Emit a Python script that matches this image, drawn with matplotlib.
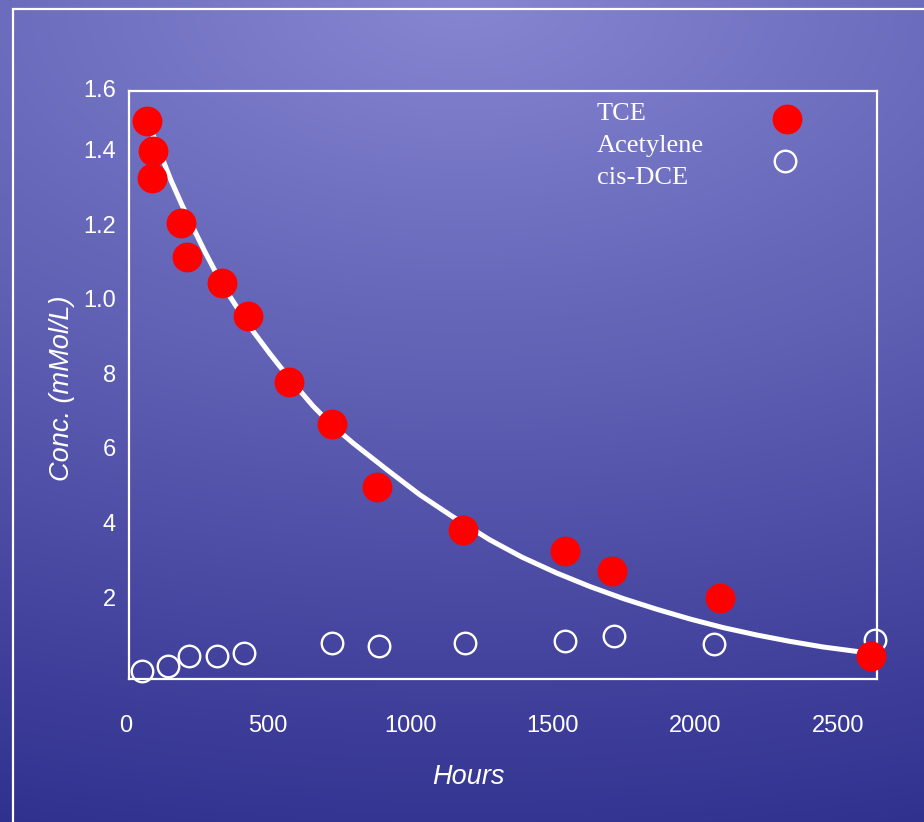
import numpy as np
import matplotlib
matplotlib.use("Agg")
import matplotlib.pyplot as plt
from matplotlib.transforms import blended_transform_factory
from matplotlib.patches import Rectangle
from matplotlib.lines import Line2D

# ---------------- data ----------------
tce_hours = [74, 95, 93, 193, 216, 337, 431, 574, 723, 882, 1183, 1542, 1708, 2087, 2616]
tce_conc = [1.484, 1.404, 1.331, 1.209, 1.119, 1.048, 0.961, 0.784, 0.670, 0.502,
            0.388, 0.330, 0.276, 0.204, 0.049]

acet_hours = [59, 148, 223, 320, 417, 726, 889, 1190, 1542, 1714, 2067, 2631]
acet_conc = [0.009, 0.023, 0.049, 0.049, 0.056, 0.083, 0.076, 0.083, 0.090, 0.103,
             0.082, 0.091]

fit_hours = [79, 103, 131, 159, 198, 237, 279, 338, 388, 447, 507, 574, 658, 724,
             798, 918, 1033, 1149, 1279, 1391, 1514, 1630, 1746, 1865, 1981, 2097,
             2216, 2332, 2448, 2567, 2613]
fit_conc = [1.481, 1.433, 1.379, 1.325, 1.258, 1.197, 1.132, 1.046, 0.987,
            0.920, 0.859, 0.794, 0.719, 0.668, 0.620, 0.548, 0.481, 0.422, 0.360,
            0.314, 0.271, 0.235, 0.203, 0.174, 0.148, 0.125, 0.105, 0.088, 0.073,
            0.061, 0.056]

x_tick_vals = [0, 500, 1000, 1500, 2000, 2500]
x_tick_labels = ["0", "500", "1000", "1500", "2000", "2500"]
y_tick_vals = [0.2, 0.4, 0.6, 0.8, 1.0, 1.2, 1.4, 1.6]
y_tick_labels = ["2", "4", "6", "8", "1.0", "1.2", "1.4", "1.6"]

legend_labels = ["TCE", "Acetylene", "cis-DCE"]

# ---------------- figure ----------------
W, H, DPI = 924, 822, 100
fig = plt.figure(figsize=(W / DPI, H / DPI), dpi=DPI)

# gradient background
bg = fig.add_axes([0, 0, 1, 1], zorder=-10)
bg.set_axis_off()
yy, xx = np.mgrid[0:H, 0:W]
t = np.sqrt(((xx - 0.5 * W) / (W * 1.6)) ** 2 + (yy / H) ** 2)
c0 = np.array([134, 134, 210]) / 255.0
c1 = np.array([52, 52, 146]) / 255.0
img = c0[None, None, :] + (c1 - c0)[None, None, :] * t[:, :, None]
img = np.clip(img, 0, 1)
bg.imshow(img, extent=[0, 1, 0, 1], aspect="auto", origin="upper")
bg.set_xlim(0, 1)
bg.set_ylim(0, 1)

# outer white frame (runs off the right and bottom edges)
frame = Rectangle((13 / W, -0.05), 1.2, 1 - 9 / H + 0.05, transform=fig.transFigure,
                  fill=False, edgecolor="white", linewidth=1.6, zorder=-5)
fig.patches.append(frame)

ax = fig.add_axes([129 / W, 1 - 679 / H, (877 - 129) / W, (679 - 91) / H])
ax.set_facecolor("none")
ax.set_xlim(11.9, 2637.4)
ax.set_ylim(-0.0129, 1.564)
for s in ax.spines.values():
    s.set_color("white")
    s.set_linewidth(1.6)
    s.set_zorder(3)
ax.set_xticks([])
ax.set_yticks([])

# fitted curve
ax.plot(fit_hours, fit_conc, color="white", lw=3.6, solid_capstyle="round",
        solid_joinstyle="round", zorder=2)
# acetylene (open circles)
ax.plot(acet_hours, acet_conc, linestyle="none", marker="o", markersize=15.5,
        markerfacecolor="none", markeredgecolor="white", markeredgewidth=1.7,
        clip_on=False, zorder=2.5)
# TCE (red filled)
ax.plot(tce_hours, tce_conc, linestyle="none", marker="o", markersize=21.5,
        markerfacecolor="#ff0000", markeredgecolor="none", clip_on=False, zorder=4)

tick_font = dict(family="Liberation Sans", size=17, color="white")
xtr = blended_transform_factory(ax.transData, ax.transAxes)
for v, lab in zip(x_tick_vals, x_tick_labels):
    ax.text(v, -0.0799, lab, transform=xtr, ha="center", va="center", **tick_font)
ytr = blended_transform_factory(ax.transAxes, ax.transData)
ytop = ax.get_ylim()[1]
for v, lab in zip(y_tick_vals, y_tick_labels):
    ax.text(-0.0174, min(v, ytop), lab, transform=ytr, ha="right", va="center",
            **tick_font)

label_font = dict(family="Liberation Sans", size=19.5, color="white", style="italic")
fig.text(468 / W, 1 - 777 / H, "Hours", ha="center", va="center", **label_font)
fig.text(62 / W, 1 - 388 / H, "Conc. (mMol/L)", ha="center", va="center",
         rotation=90, **label_font)

# legend (manual)
leg_font = dict(family="Liberation Serif", size=19, color="white")
for lab, yb in zip(legend_labels, [0.9507, 0.8968, 0.8418]):
    ax.text(0.6257, yb, lab, transform=ax.transAxes, ha="left", va="baseline", **leg_font)
ax.add_line(Line2D([0.8793], [0.9524], transform=ax.transAxes, linestyle="none",
                   marker="o", markersize=21.5, markerfacecolor="#ff0000",
                   markeredgecolor="none", zorder=4))
ax.add_line(Line2D([0.8770], [0.8810], transform=ax.transAxes, linestyle="none",
                   marker="o", markersize=15.5, markerfacecolor="none",
                   markeredgecolor="white", markeredgewidth=1.7, zorder=4))

fig.savefig("out.png", dpi=DPI)
